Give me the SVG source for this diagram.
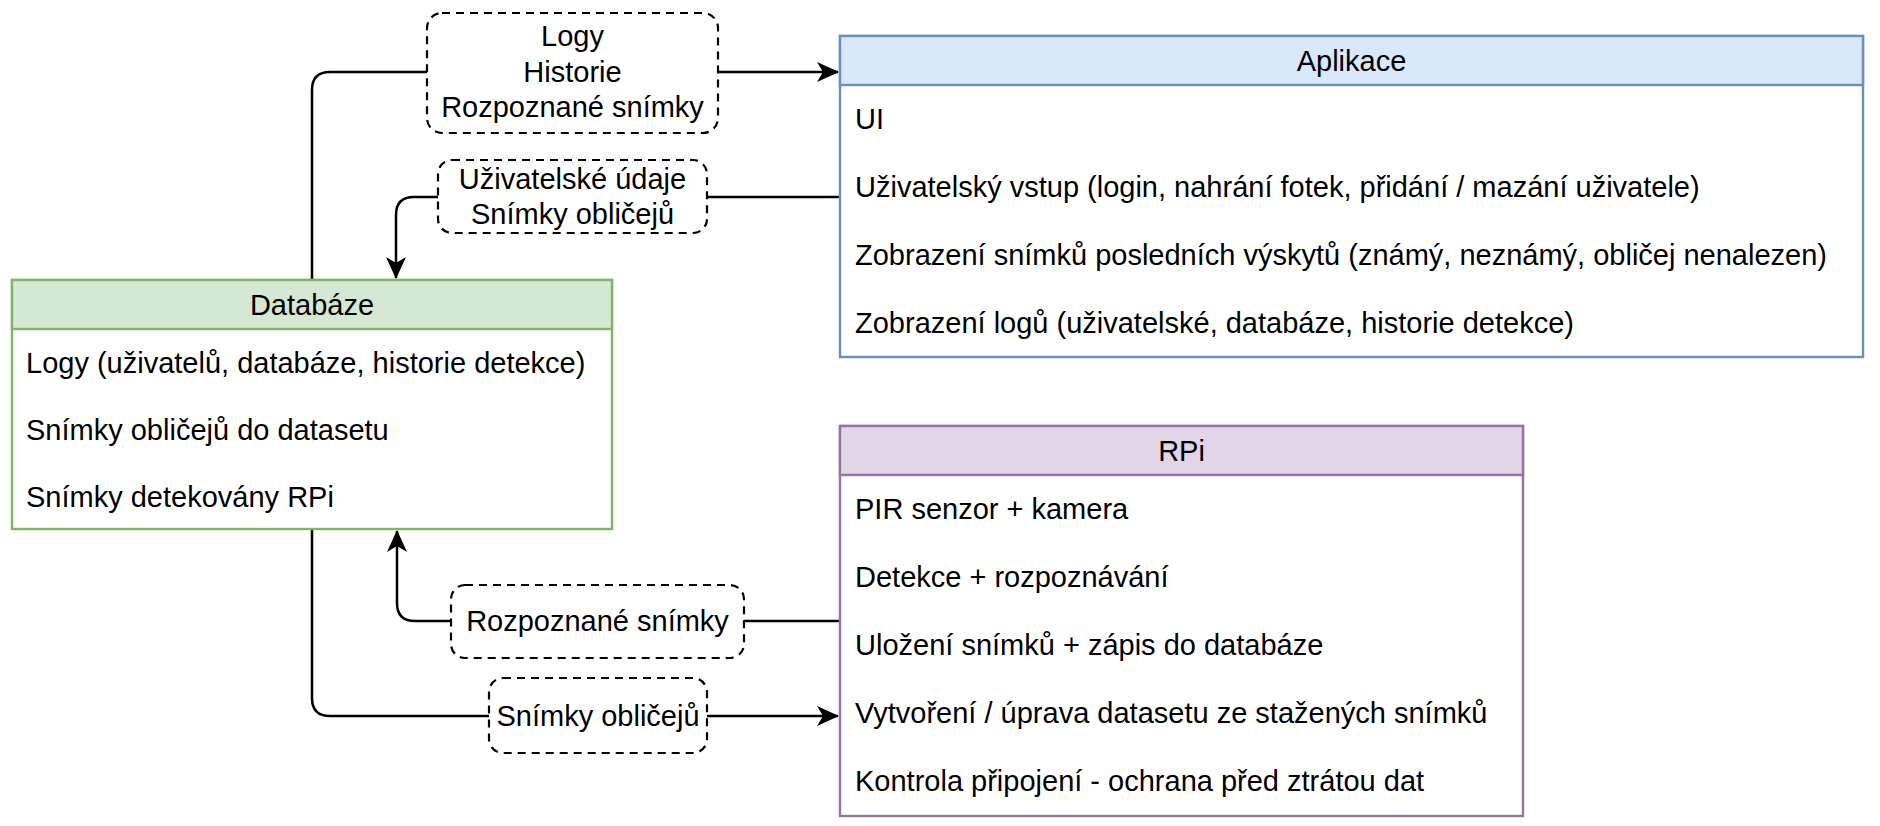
<svg xmlns="http://www.w3.org/2000/svg" width="1880" height="826" viewBox="0 0 1880 826">
<style>
  text { font-family: "Liberation Sans", Arial, Helvetica, sans-serif; font-size: 29px; fill: #000; }
  .c { text-anchor: middle; }
  .box { fill: #ffffff; stroke-width: 2.4; }
  .g { stroke: #82b366; }
  .gh { fill: #d5e8d4; stroke: #82b366; stroke-width: 2.4; }
  .b { stroke: #6c8ebf; }
  .bh { fill: #dae8fc; stroke: #6c8ebf; stroke-width: 2.4; }
  .p { stroke: #9673a6; }
  .ph { fill: #e1d5e7; stroke: #9673a6; stroke-width: 2.4; }
  .edge { fill: none; stroke: #000; stroke-width: 2.5; }
  .lbl { fill: #ffffff; stroke: #000; stroke-width: 2.2; stroke-dasharray: 8 6; }
</style>
<defs>
  <marker id="arr" viewBox="0 0 22 20" refX="21" refY="10" markerWidth="22" markerHeight="20" markerUnits="userSpaceOnUse" orient="auto">
    <path d="M0,0 L22,10 L0,20 L6,10 Z" fill="#000"/>
  </marker>
</defs>
<rect width="1880" height="826" fill="#ffffff"/>

<g id="connectors">
  <path class="edge" d="M312,280 V90 Q312,72 330,72 H838" marker-end="url(#arr)"/>
  <path class="edge" d="M840,197 H414 Q396,197 396,215 V278" marker-end="url(#arr)"/>
  <path class="edge" d="M840,621 H415 Q397,621 397,603 V531" marker-end="url(#arr)"/>
  <path class="edge" d="M312,529 V698 Q312,716 330,716 H838" marker-end="url(#arr)"/>
</g>

<g id="label-logy">
  <rect class="lbl" x="427" y="13" width="291" height="120" rx="15"/>
  <text class="c" x="572.5" y="46">Logy</text>
  <text class="c" x="572.5" y="82">Historie</text>
  <text class="c" x="572.5" y="117">Rozpoznané snímky</text>
</g>
<g id="label-udaje">
  <rect class="lbl" x="438" y="160" width="269" height="73" rx="14"/>
  <text class="c" x="572.5" y="189">Uživatelské údaje</text>
  <text class="c" x="572.5" y="224">Snímky obličejů</text>
</g>
<g id="label-rozpoznane">
  <rect class="lbl" x="451" y="585" width="293" height="73" rx="14"/>
  <text class="c" x="597.5" y="631">Rozpoznané snímky</text>
</g>
<g id="label-obliceje">
  <rect class="lbl" x="489" y="678" width="218" height="75" rx="14"/>
  <text class="c" x="598" y="726">Snímky obličejů</text>
</g>

<g id="databaze">
  <rect class="box g" x="12" y="280" width="600" height="249"/>
  <rect class="gh" x="12" y="280" width="600" height="49"/>
  <text class="c" x="312" y="314.5">Databáze</text>
  <text x="26" y="372.5">Logy (uživatelů, databáze, historie detekce)</text>
  <text x="26" y="439.5">Snímky obličejů do datasetu</text>
  <text x="26" y="506.5">Snímky detekovány RPi</text>
</g>

<g id="aplikace">
  <rect class="box b" x="840" y="36" width="1023" height="321"/>
  <rect class="bh" x="840" y="36" width="1023" height="49"/>
  <text class="c" x="1351.5" y="70.5">Aplikace</text>
  <text x="855" y="129">UI</text>
  <text x="855" y="197">Uživatelský vstup (login, nahrání fotek, přidání / mazání uživatele)</text>
  <text x="855" y="265">Zobrazení snímků posledních výskytů (známý, neznámý, obličej nenalezen)</text>
  <text x="855" y="333">Zobrazení logů (uživatelské, databáze, historie detekce)</text>
</g>

<g id="rpi">
  <rect class="box p" x="840" y="426" width="683" height="390"/>
  <rect class="ph" x="840" y="426" width="683" height="49"/>
  <text class="c" x="1181.5" y="460.5">RPi</text>
  <text x="855" y="519">PIR senzor + kamera</text>
  <text x="855" y="587">Detekce + rozpoznávání</text>
  <text x="855" y="655">Uložení snímků + zápis do databáze</text>
  <text x="855" y="723">Vytvoření / úprava datasetu ze stažených snímků</text>
  <text x="855" y="791">Kontrola připojení - ochrana před ztrátou dat</text>
</g>
</svg>
